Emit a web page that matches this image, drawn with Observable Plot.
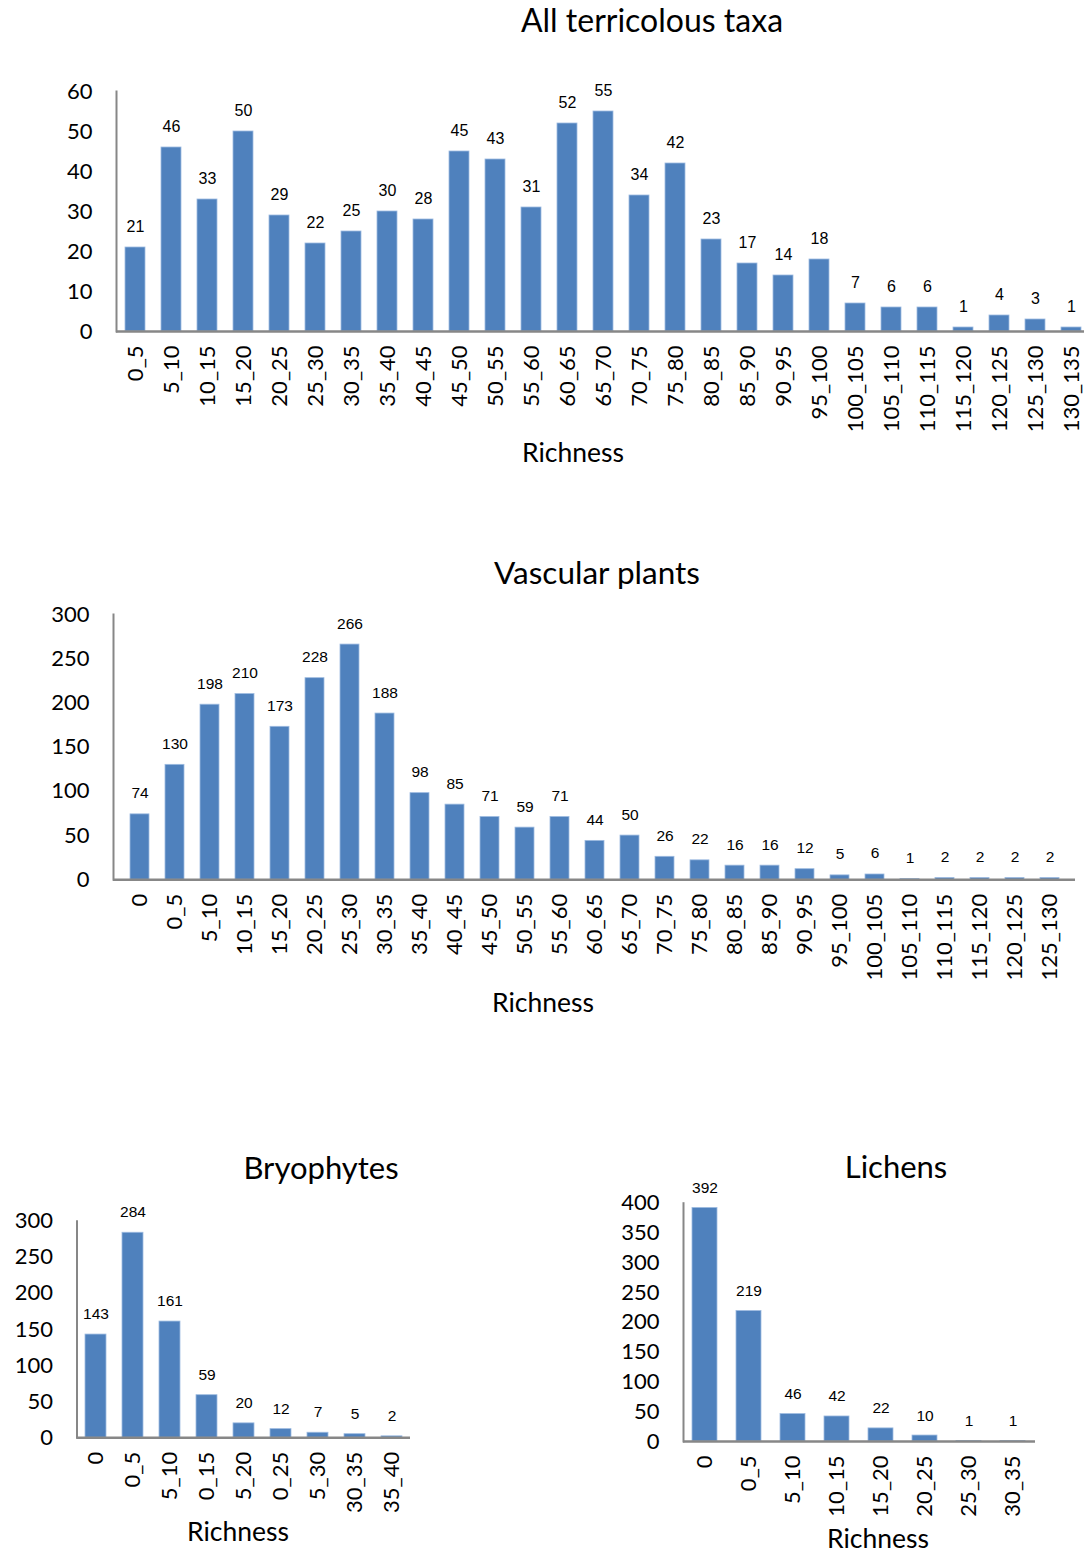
<!DOCTYPE html>
<html>
<head>
<meta charset="utf-8">
<script src="https://cdn.jsdelivr.net/npm/d3@7"></script>
<script src="https://cdn.jsdelivr.net/npm/@observablehq/plot@0.6"></script>
<style>
  html, body { margin: 0; padding: 0; background: #fff; }
  body { width: 1084px; height: 1555px; overflow: hidden; position: relative; font-family: Lato, sans-serif; }
  .panel { position: absolute; }
  .panel svg { max-width: none !important; display: block; overflow: hidden; }
  .cap { position: absolute; white-space: nowrap; transform: translateX(-50%); line-height: 1; color: #000; font-family: Lato, sans-serif; }
</style>
</head>
<body>
<script>
// Frequency of plots per richness class
const allCats = ["0_5","5_10","10_15","15_20","20_25","25_30","30_35","35_40","40_45","45_50","50_55","55_60","60_65","65_70","70_75","75_80","80_85","85_90","90_95","95_100","100_105","105_110","110_115","115_120","120_125","125_130","130_135"];
const allCounts = [21,46,33,50,29,22,25,30,28,45,43,31,52,55,34,42,23,17,14,18,7,6,6,1,4,3,1];
const allTicks = [0,10,20,30,40,50,60];

const vascCats = ["0","0_5","5_10","10_15","15_20","20_25","25_30","30_35","35_40","40_45","45_50","50_55","55_60","60_65","65_70","70_75","75_80","80_85","85_90","90_95","95_100","100_105","105_110","110_115","115_120","120_125","125_130"];
const vascCounts = [74,130,198,210,173,228,266,188,98,85,71,59,71,44,50,26,22,16,16,12,5,6,1,2,2,2,2];
const vascTicks = [0,50,100,150,200,250,300];

const bryoCats = ["0","0_5","5_10","0_15","5_20","0_25","5_30","30_35","35_40"];
const bryoCounts = [143,284,161,59,20,12,7,5,2];
const bryoTicks = [0,50,100,150,200,250,300];

const lichCats = ["0","0_5","5_10","10_15","15_20","20_25","25_30","30_35"];
const lichCounts = [392,219,46,42,22,10,1,1];
const lichTicks = [0,50,100,150,200,250,300,350,400];

const BAR = "#4F81BD";
const AXIS = "#878787";

function histogram({cats, counts, ticks, left, top, width, height, mL, mT, mB, pad, labelSize, labelGap}) {
  const data = cats.map((c, i) => ({cat: c, n: counts[i]}));
  const chart = Plot.plot({
    width, height,
    marginLeft: mL, marginRight: 0, marginTop: mT, marginBottom: mB,
    style: {fontFamily: "Lato, sans-serif", fontSize: "22px", color: "#000", background: "transparent", maxWidth: "none", overflow: "hidden"},
    x: {domain: cats, paddingInner: pad, paddingOuter: pad / 2, label: null},
    y: {domain: [0, ticks[ticks.length - 1]], label: null},
    marks: [
      Plot.barY(data, {x: "cat", y: "n", fill: BAR, stroke: "#9dbbe0", strokeWidth: 0.8}),
      Plot.frame({anchor: "left", stroke: AXIS, strokeWidth: 2}),
      Plot.ruleY([0], {stroke: AXIS, strokeWidth: 2.5}),
      Plot.axisY(ticks, {tickSize: 0, tickPadding: 24, fontSize: 22, label: null}),
      Plot.axisX({tickRotate: -90, tickSize: 0, tickPadding: 14, fontSize: 22, label: null}),
      Plot.text(data, {x: "cat", y: "n", text: d => String(d.n), dy: -labelGap, lineAnchor: "bottom",
        fontFamily: "'Liberation Sans', Arial, sans-serif", fontSize: labelSize, fill: "#000"})
    ]
  });
  const div = document.createElement("div");
  div.className = "panel";
  div.style.left = left + "px";
  div.style.top = top + "px";
  div.appendChild(chart);
  document.body.appendChild(div);
}

function caption(text, cx, baseline, size) {
  const d = document.createElement("div");
  d.className = "cap";
  d.textContent = text;
  d.style.fontSize = size + "px";
  d.style.left = cx + "px";
  d.style.top = (baseline - 0.887 * size) + "px";
  document.body.appendChild(d);
}

// All terricolous taxa
histogram({cats: allCats, counts: allCounts, ticks: allTicks,
  left: 0, top: 0, width: 1089, height: 451, mL: 116, mT: 91, mB: 120, pad: 0.45, labelSize: 16, labelGap: 16});
// Vascular plants
histogram({cats: vascCats, counts: vascCounts, ticks: vascTicks,
  left: 0, top: 540, width: 1075, height: 470, mL: 113, mT: 74, mB: 130.7, pad: 0.46, labelSize: 15.5, labelGap: 16});
// Bryophytes
histogram({cats: bryoCats, counts: bryoCounts, ticks: bryoTicks,
  left: 0, top: 1190, width: 410, height: 327, mL: 76.5, mT: 30.7, mB: 79.7, pad: 0.43, labelSize: 15.5, labelGap: 15.5});
// Lichens
histogram({cats: lichCats, counts: lichCounts, ticks: lichTicks,
  left: 600, top: 1170, width: 435, height: 361, mL: 83, mT: 32.7, mB: 90, pad: 0.43, labelSize: 15.5, labelGap: 15});

caption("All terricolous taxa", 652, 32, 32);
caption("Richness", 573, 463, 26.5);
caption("Vascular plants", 597, 585, 31.5);
caption("Richness", 543, 1013, 26.5);
caption("Bryophytes", 321, 1179, 31);
caption("Richness", 238, 1542, 26.5);
caption("Lichens", 896, 1178, 31);
caption("Richness", 878, 1549, 26.5);
</script>
</body>
</html>
